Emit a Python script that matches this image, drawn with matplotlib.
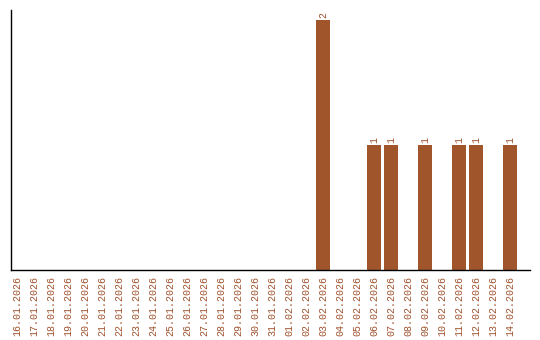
import matplotlib
matplotlib.use('Agg')
import matplotlib.pyplot as plt

# Data
dates = ['16.01.2026', '17.01.2026', '18.01.2026', '19.01.2026', '20.01.2026',
         '21.01.2026', '22.01.2026', '23.01.2026', '24.01.2026', '25.01.2026',
         '26.01.2026', '27.01.2026', '28.01.2026', '29.01.2026', '30.01.2026',
         '31.01.2026', '01.02.2026', '02.02.2026', '03.02.2026', '04.02.2026',
         '05.02.2026', '06.02.2026', '07.02.2026', '08.02.2026', '09.02.2026',
         '10.02.2026', '11.02.2026', '12.02.2026', '13.02.2026', '14.02.2026']
counts = [0, 0, 0, 0, 0, 0, 0, 0, 0, 0,
          0, 0, 0, 0, 0, 0, 0, 0, 2, 0,
          0, 1, 1, 0, 1, 0, 1, 1, 0, 1]

bar_color = '#a0562a'
text_color = '#a0522d'

fig = plt.figure(figsize=(5.4, 3.4), dpi=100)
ax = fig.add_axes([11/540, 70/340, 519/540, 260/340])

x = list(range(len(dates)))
ax.bar(x, counts, width=0.82, color=bar_color)

for xi, c in zip(x, counts):
    if c > 0:
        ax.text(xi, c + 0.02, str(c), rotation=90, ha='center', va='bottom',
                fontsize=7.2, family='Liberation Mono', color=text_color)

ax.set_xlim(-0.35, 30.18)
ax.set_ylim(0, 2.08)
ax.set_xticks(x)
ax.set_xticklabels(dates, rotation=90, fontsize=7.2, family='Liberation Mono',
                   color=text_color)
ax.tick_params(axis='x', length=0, pad=4)
ax.set_yticks([])
ax.spines['top'].set_visible(False)
ax.spines['right'].set_visible(False)
ax.spines['left'].set_linewidth(1)
ax.spines['bottom'].set_linewidth(1)

fig.savefig('out.png', dpi=100)
